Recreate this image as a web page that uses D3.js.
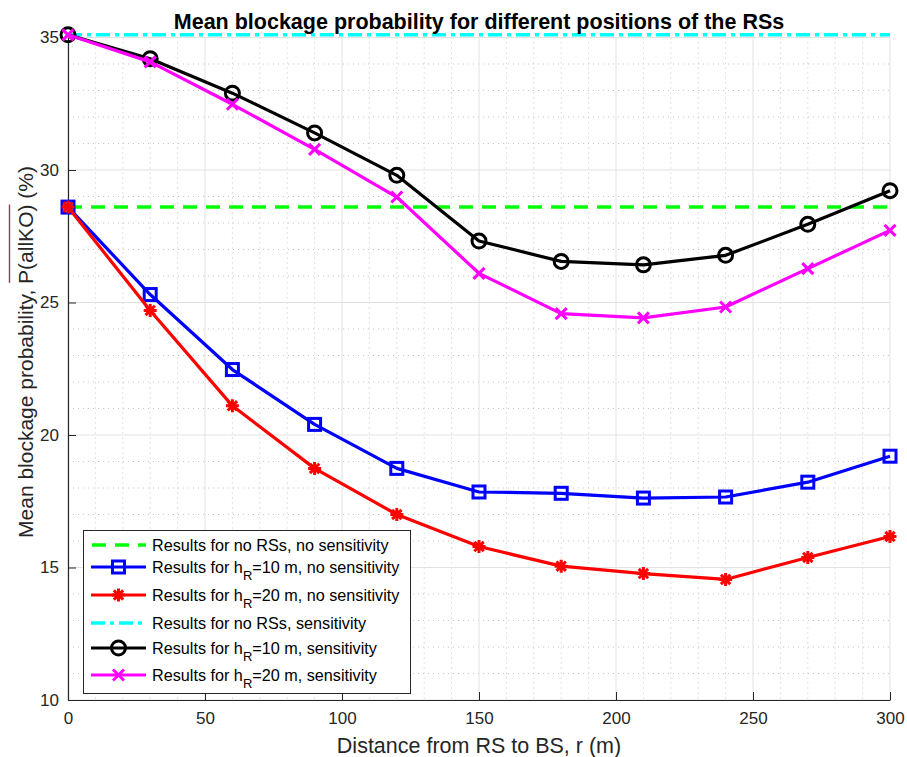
<!DOCTYPE html>
<html><head><meta charset="utf-8">
<script src="https://cdn.jsdelivr.net/npm/d3@7"></script>
<style>body{margin:0;background:#fff;} svg{display:block;font-family:"Liberation Sans",Arial,Helvetica,sans-serif;}</style>
</head><body>
<svg id="c" width="907" height="757"></svg>
<script>
const distances = [0,30,60,90,120,150,180,210,240,270,300];
const noRsNoSens = 28.6;
const h10NoSens = [28.6,25.3,22.47,20.4,18.74,17.85,17.8,17.62,17.66,18.22,19.2];
const h20NoSens = [28.6,24.7,21.1,18.74,17.0,15.79,15.05,14.77,14.55,15.38,16.17];
const noRsSens = 35.1;
const h10Sens = [35.1,34.2,32.9,31.4,29.8,27.32,26.55,26.42,26.78,27.95,29.22];
const h20Sens = [35.1,34.08,32.48,30.78,28.98,26.1,24.58,24.42,24.83,26.28,27.72];
const xTicks = [0,50,100,150,200,250,300];
const yTicks = [10,15,20,25,30,35];
const title = "Mean blockage probability for different positions of the RSs";
const xLabel = "Distance from RS to BS, r (m)";

const svg = d3.select("#c");
const L=68,R=890,T=37.5,B=700;
const x = d3.scaleLinear().domain([0,300]).range([L,R]);
const y = d3.scaleLinear().domain([10,35]).range([B,T]);

// minor grid
const gMinor = svg.append("g");
d3.range(0,301,10).filter(v=>v%50!==0).forEach(v=>{
  gMinor.append("line").attr("x1",x(v)).attr("x2",x(v)).attr("y1",T).attr("y2",B)
   .attr("stroke","#c4c4c4").attr("stroke-width",1).attr("stroke-dasharray","1,4");
});
d3.range(10,35.01,1).filter(v=>v%5!==0).forEach(v=>{
  gMinor.append("line").attr("x1",L).attr("x2",R).attr("y1",y(v)).attr("y2",y(v))
   .attr("stroke","#c4c4c4").attr("stroke-width",1).attr("stroke-dasharray","1,4");
});
// major grid
xTicks.forEach(v=>svg.append("line").attr("x1",x(v)).attr("x2",x(v)).attr("y1",T).attr("y2",B).attr("stroke","#e2e2e2").attr("stroke-width",1));
yTicks.forEach(v=>svg.append("line").attr("x1",L).attr("x2",R).attr("y1",y(v)).attr("y2",y(v)).attr("stroke","#e2e2e2").attr("stroke-width",1));

// axes
const xAxis = d3.axisBottom(x).tickValues(xTicks).tickSizeInner(-8).tickSizeOuter(0).tickPadding(12);
const gx = svg.append("g").attr("transform",`translate(0,${B})`).call(xAxis);
const yAxis = d3.axisLeft(y).tickValues(yTicks).tickSizeInner(-8).tickSizeOuter(0).tickPadding(9);
const gy = svg.append("g").attr("transform",`translate(${L},0)`).call(yAxis);
[gx,gy].forEach(g=>{
  g.select(".domain").attr("stroke","#262626").attr("stroke-width",1.2);
  g.selectAll(".tick line").attr("stroke","#262626");
  g.selectAll(".tick text").attr("fill","#262626").style("font-size","17px");
});

// lines
const line = d3.line().x((d,i)=>x(distances[i])).y(d=>y(d));
function drawSeries(vals,color,marker){
  svg.append("path").datum(vals).attr("d",line).attr("fill","none").attr("stroke",color).attr("stroke-width",3.2).attr("stroke-linejoin","round");
  vals.forEach((v,i)=>drawMarker(x(distances[i]),y(v),color,marker));
}
function drawMarker(cx,cy,color,m){
  if(m==="square"){
    svg.append("rect").attr("x",cx-6).attr("y",cy-6).attr("width",12).attr("height",12).attr("fill","none").attr("stroke",color).attr("stroke-width",3);
  } else if(m==="circle"){
    svg.append("circle").attr("cx",cx).attr("cy",cy).attr("r",7).attr("fill","none").attr("stroke",color).attr("stroke-width",3);
  } else if(m==="x"){
    const s=5.5;
    svg.append("path").attr("d",`M${cx-s},${cy-s}L${cx+s},${cy+s}M${cx-s},${cy+s}L${cx+s},${cy-s}`).attr("stroke",color).attr("stroke-width",3);
  } else if(m==="star"){
    const s=6.5; let d=`M${cx-s},${cy}L${cx+s},${cy}M${cx},${cy-s}L${cx},${cy+s}`;
    const k=s*0.72; d+=`M${cx-k},${cy-k}L${cx+k},${cy+k}M${cx-k},${cy+k}L${cx+k},${cy-k}`;
    svg.append("path").attr("d",d).attr("stroke",color).attr("stroke-width",3);
  }
}
function hline(v,color,dash){
  svg.append("line").attr("x1",x(0)).attr("x2",x(300)).attr("y1",y(v)).attr("y2",y(v)).attr("stroke",color).attr("stroke-width",3.5).attr("stroke-dasharray",dash);
}
hline(noRsNoSens,"#00ff00","14,9");
drawSeries(h10NoSens,"#0000ff","square");
drawSeries(h20NoSens,"#ff0000","star");
hline(noRsSens,"#00ffff","14,5,4,5");
drawSeries(h10Sens,"#000000","circle");
drawSeries(h20Sens,"#ff00ff","x");

// title
svg.append("text").attr("x",479).attr("y",29).attr("text-anchor","middle").style("font-size","21.5px").style("font-weight","bold").attr("fill","#000").text(title);
// x label
svg.append("text").attr("x",479).attr("y",753).attr("text-anchor","middle").style("font-size","21.5px").attr("fill","#262626").text(xLabel);
// y label
const YT = "translate(33,352) rotate(-90)";
const yl = svg.append("text").attr("transform",YT).attr("text-anchor","middle").style("font-size","21px").attr("fill","#262626");
yl.append("tspan").text("Mean blockage probability, ");
const ov = yl.append("tspan").text("P(allKO)");
yl.append("tspan").text(" (%)");
// overline
const bb = ov.node().getComputedTextLength();
const full = yl.node().getComputedTextLength();
const pre = yl.select("tspan").node().getComputedTextLength();
const startX = -full/2 + pre;
svg.append("line").attr("transform",YT)
  .attr("x1",startX+1).attr("x2",startX+bb).attr("y1",-23.5).attr("y2",-23.5).attr("stroke","#9b3b5b").attr("stroke-width",1.4);

// legend
const lg = svg.append("g");
lg.append("rect").attr("x",83.5).attr("y",530.5).attr("width",327).attr("height",163).attr("fill","#fff").attr("stroke","#262626").attr("stroke-width",1);
const entries = [
 {c:"#00ff00",m:null,dash:"14,9",pre:"Results for no RSs, no sensitivity",y:545},
 {c:"#0000ff",m:"square",dash:null,h:"10",post:", no sensitivity",y:567},
 {c:"#ff0000",m:"star",dash:null,h:"20",post:", no sensitivity",y:595},
 {c:"#00ffff",m:null,dash:"14,5,4,5",pre:"Results for no RSs, sensitivity",y:623},
 {c:"#000000",m:"circle",dash:null,h:"10",post:", sensitivity",y:648},
 {c:"#ff00ff",m:"x",dash:null,h:"20",post:", sensitivity",y:675},
];
entries.forEach(e=>{
  if(e.m){
    lg.append("line").attr("x1",91).attr("x2",146).attr("y1",e.y).attr("y2",e.y).attr("stroke",e.c).attr("stroke-width",3.2);
    drawMarker(118.5,e.y,e.c,e.m);
  } else {
    const xs = e.dash==="14,9" ? 92 : 91;
    lg.append("line").attr("x1",xs).attr("x2",146).attr("y1",e.y).attr("y2",e.y).attr("stroke",e.c).attr("stroke-width",3.5).attr("stroke-dasharray",e.dash);
  }
  const t = lg.append("text").attr("x",152).attr("y",e.y+5.5).style("font-size","16.2px").attr("fill","#000");
  if(e.pre){ t.text(e.pre); }
  else {
    t.append("tspan").text("Results for h");
    t.append("tspan").attr("dy",7).style("font-size","13px").text("R");
    t.append("tspan").attr("dy",-7).text("="+e.h+" m"+e.post);
  }
});
</script>
</body></html>
